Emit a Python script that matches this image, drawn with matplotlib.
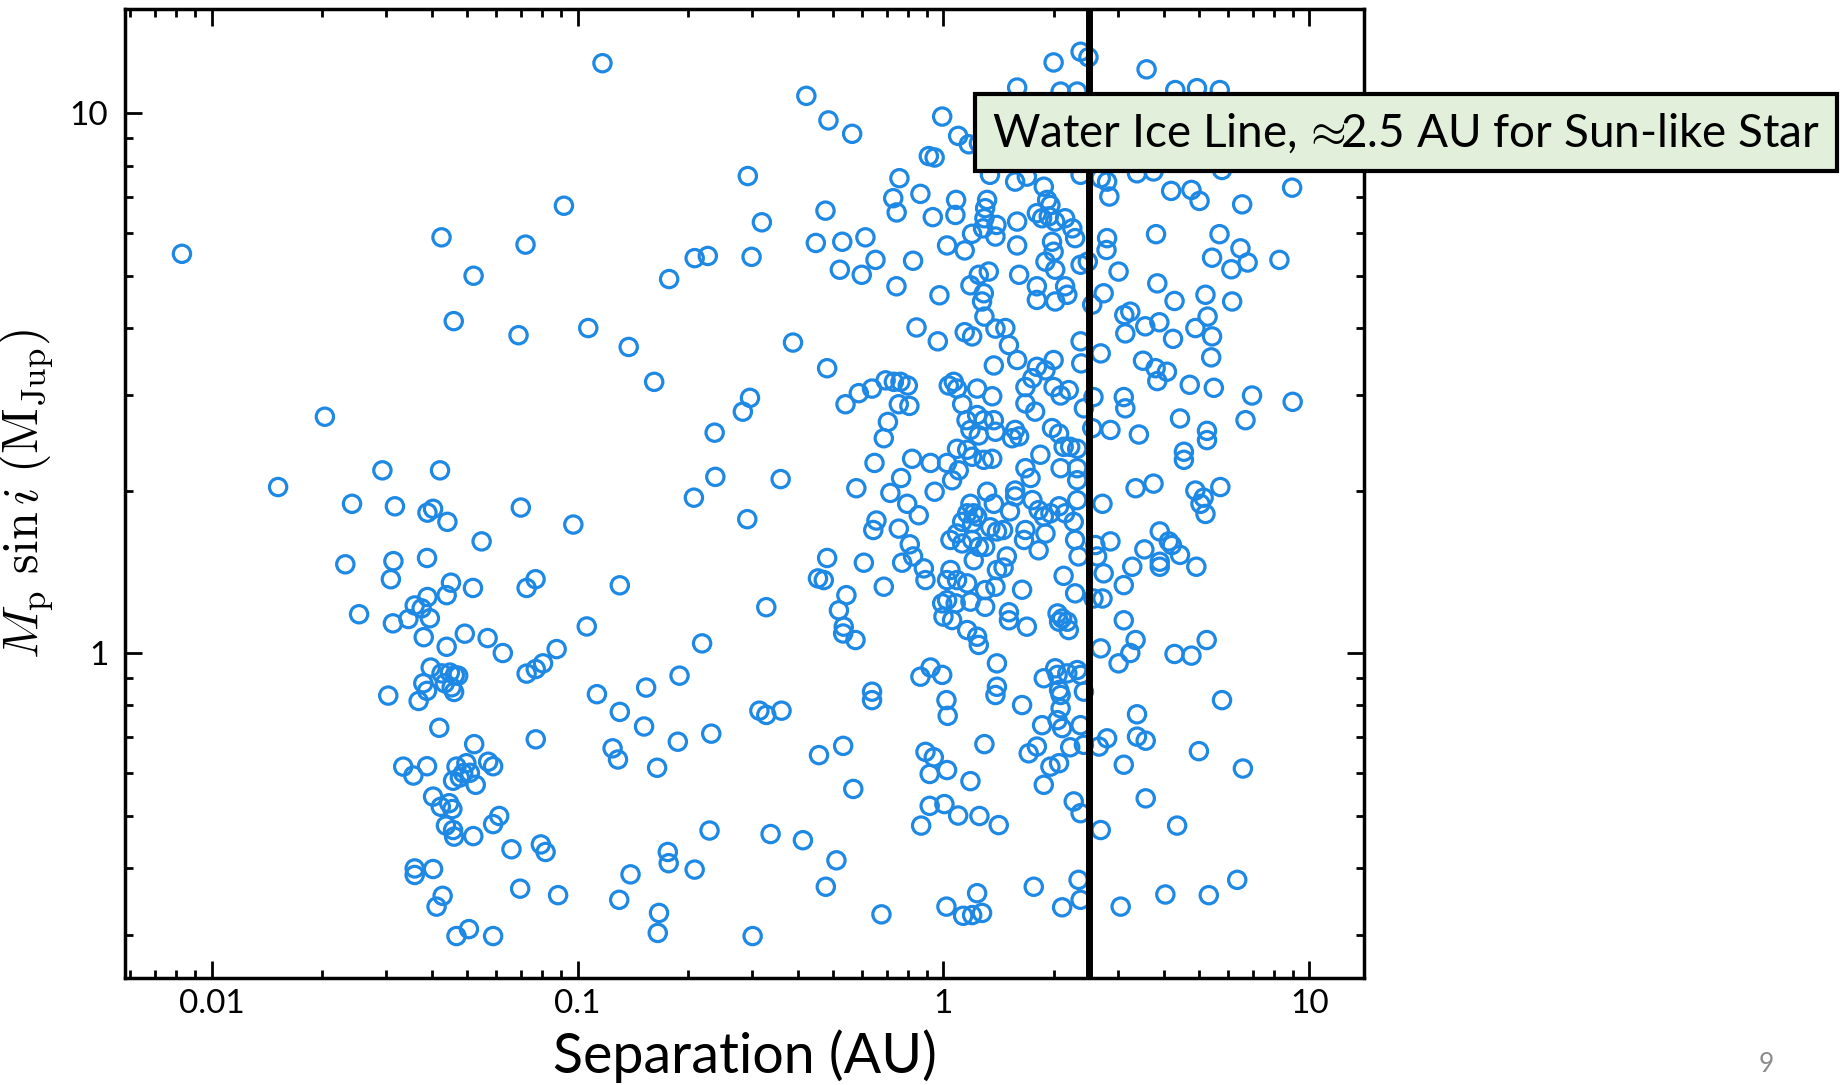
import matplotlib
matplotlib.use('Agg')
import matplotlib.pyplot as plt
from matplotlib.patches import Rectangle
from matplotlib.ticker import LogLocator, FuncFormatter, NullFormatter
import numpy as np

plt.rcParams['font.family'] = ['Lato', 'DejaVu Sans']
plt.rcParams['mathtext.fontset'] = 'cm'

# Planets, split in bands of separation (AU) / M sin i (M_Jup)

# closer than ~0.1 AU
sep_close = [
    0.0083, 0.0425, 0.0721, 0.0918, 0.052, 0.0459, 0.069, 0.107, 0.0204, 0.0293, 0.0421, 0.0152,
    0.0242, 0.0317, 0.0389, 0.0403, 0.0441, 0.070, 0.0974, 0.0547, 0.0232, 0.0314,
    0.0309, 0.0388, 0.0451, 0.0439, 0.0518, 0.0726, 0.0768, 0.106, 0.0253, 0.0313,
    0.0345, 0.0359, 0.0375, 0.0389, 0.0395, 0.038, 0.0439, 0.0492, 0.0568, 0.0625,
    0.0877, 0.0726, 0.0769, 0.0805, 0.0397, 0.0425, 0.0448, 0.0462, 0.0472, 0.0434,
    0.0453, 0.046, 0.0379, 0.0388, 0.0368, 0.0304, 0.0419, 0.0769, 0.0522, 0.0334,
    0.0356, 0.0388, 0.0467, 0.0497, 0.0487, 0.0477, 0.0457, 0.0508, 0.0527, 0.057,
    0.0588, 0.0403, 0.0423, 0.0446, 0.0455, 0.0437, 0.0457, 0.046, 0.0519, 0.0588,
    0.0611, 0.066, 0.0794, 0.0818, 0.0359, 0.0359, 0.0403, 0.0428, 0.0412, 0.0697,
    0.0885, 0.0467, 0.0505, 0.0588,
]
mass_close = [
    5.49, 5.89, 5.71, 6.74, 5.0, 4.12, 3.88, 4.0, 2.74, 2.18, 2.18, 2.03,
    1.89, 1.87, 1.82, 1.85, 1.75, 1.86, 1.73, 1.61, 1.46, 1.48,
    1.37, 1.50, 1.35, 1.28, 1.32, 1.32, 1.37, 1.12, 1.18, 1.135,
    1.156, 1.225, 1.21, 1.27, 1.16, 1.07, 1.027, 1.086, 1.066, 1.0,
    1.017, 0.916, 0.934, 0.957, 0.940, 0.917, 0.92, 0.91, 0.908, 0.879,
    0.864, 0.847, 0.879, 0.851, 0.815, 0.834, 0.727, 0.692, 0.678, 0.616,
    0.593, 0.617, 0.616, 0.625, 0.599, 0.588, 0.580, 0.60, 0.570, 0.629,
    0.617, 0.542, 0.519, 0.527, 0.514, 0.479, 0.470, 0.457, 0.458, 0.482,
    0.499, 0.433, 0.442, 0.428, 0.399, 0.388, 0.398, 0.355, 0.339, 0.366,
    0.356, 0.299, 0.308, 0.299,
]

# ~0.1 - 0.5 AU
sep_warm = [
    0.117, 0.422, 0.485, 0.292, 0.476, 0.319, 0.448, 0.209, 0.227, 0.299,
    0.178, 0.138, 0.162, 0.388, 0.481, 0.296, 0.283, 0.237, 0.238, 0.359, 0.208,
    0.291, 0.1305, 0.328, 0.481, 0.454, 0.471, 0.219, 0.190, 0.154, 0.113,
    0.1305, 0.152, 0.188, 0.232, 0.1247, 0.129, 0.165, 0.314, 0.328, 0.361,
    0.457, 0.2295, 0.337, 0.413, 0.477, 0.1765, 0.1775, 0.1396, 0.209, 0.130,
    0.167, 0.1657, 0.301,
]
mass_warm = [
    12.38, 10.77, 9.7, 7.65, 6.60, 6.28, 5.75, 5.39, 5.44, 5.42,
    4.93, 3.69, 3.18, 3.76, 3.37, 2.97, 2.80, 2.56, 2.12, 2.10, 1.94,
    1.77, 1.335, 1.216, 1.50, 1.375, 1.365, 1.042, 0.908, 0.863, 0.839,
    0.778, 0.731, 0.685, 0.709, 0.666, 0.635, 0.613, 0.782, 0.768, 0.782,
    0.647, 0.469, 0.462, 0.450, 0.369, 0.428, 0.408, 0.389, 0.397, 0.349,
    0.330, 0.303, 0.299,
]

# ~0.5 - 1.4 AU
sep_mid = [
    0.563, 0.992, 1.097, 1.173, 1.25, 0.912, 0.946, 1.34, 0.758, 0.729,
    0.745, 0.865, 0.935, 1.083, 1.078, 1.316, 1.30, 1.294, 1.283, 1.197,
    1.387, 1.396, 1.023, 1.143, 0.529, 0.612, 0.521, 0.598, 0.652, 0.826,
    0.744, 0.975, 1.185, 1.249, 1.33, 1.289, 1.275, 1.294, 1.387, 0.844,
    0.965, 1.143, 1.198,
    0.540, 0.587, 0.638, 0.695, 0.732, 0.763, 0.799, 0.755, 0.807, 0.705,
    0.687, 0.648, 0.578, 0.766, 0.716, 0.796, 0.856, 0.656, 0.643, 0.755,
    0.809, 0.771, 0.826, 0.884, 0.893, 0.606, 0.687, 0.543, 0.518, 0.534,
    0.532, 0.575, 0.922, 0.865, 0.992, 1.034, 1.067, 1.089, 1.236, 1.359,
    1.373, 1.125, 1.156, 1.236, 1.289, 1.373, 1.185, 1.249, 1.387, 1.089,
    1.161, 1.198, 1.289, 1.359, 1.101, 1.056, 0.821, 0.922, 1.023, 0.946,
    1.316, 1.373, 1.185, 1.161, 1.21, 1.236, 1.125, 1.198, 1.343, 1.40,
    1.045, 1.089, 1.125, 1.198, 1.249, 1.30, 1.21, 1.40, 1.045, 1.023,
    1.089, 1.161, 1.30, 1.387, 0.992, 1.023, 1.08, 1.185, 1.30, 1.0,
    1.056, 1.161, 1.236, 1.249, 1.40,
    1.019, 1.027, 0.638, 0.638, 1.40, 1.387, 0.532, 0.567, 0.893, 0.941,
    0.917, 1.023, 1.185, 1.294, 0.917, 1.006, 1.097, 1.254, 0.869, 1.416,
    0.510, 0.677, 1.019, 1.236, 1.132, 1.198, 1.275,
]
mass_mid = [
    9.16, 9.86, 9.08, 8.76, 8.8, 8.33, 8.28, 7.69, 7.58, 6.96,
    6.55, 7.09, 6.42, 6.91, 6.48, 6.91, 6.67, 6.39, 6.12, 5.98,
    5.91, 6.21, 5.69, 5.57, 5.78, 5.89, 5.13, 5.02, 5.35, 5.33,
    4.78, 4.60, 4.80, 5.02, 5.09, 4.64, 4.48, 4.20, 3.99, 4.01,
    3.78, 3.93, 3.86,
    2.89, 3.03, 3.09, 3.20, 3.18, 3.18, 3.13, 2.89, 2.87, 2.68,
    2.50, 2.25, 2.02, 2.11, 1.98, 1.89, 1.80, 1.76, 1.69, 1.70,
    1.59, 1.47, 1.51, 1.435, 1.365, 1.47, 1.327, 1.28, 1.20, 1.119,
    1.087, 1.057, 0.94, 0.904, 0.911, 3.13, 3.18, 3.09, 3.09, 2.99,
    3.41, 2.89, 2.70, 2.76, 2.70, 2.70, 2.59, 2.53, 2.57, 2.39,
    2.38, 2.31, 2.28, 2.29, 2.18, 2.09, 2.29, 2.25, 2.25, 1.99,
    1.99, 1.89, 1.89, 1.815, 1.815, 1.79, 1.75, 1.74, 1.71, 1.68,
    1.62, 1.665, 1.596, 1.62, 1.573, 1.573, 1.486, 1.425, 1.425, 1.365,
    1.365, 1.346, 1.308, 1.327, 1.236, 1.253, 1.236, 1.245, 1.218, 1.168,
    1.151, 1.103, 1.072, 1.035, 0.957,
    0.818, 0.765, 0.848, 0.818, 0.866, 0.836, 0.673, 0.560, 0.656, 0.641,
    0.597, 0.607, 0.579, 0.678, 0.521, 0.525, 0.500, 0.499, 0.479, 0.48,
    0.413, 0.328, 0.339, 0.359, 0.326, 0.327, 0.330,
]

# ~1.4 - 3.2 AU, around the ice line
sep_near = [
    2.0, 2.37, 2.49, 1.59, 2.09, 2.32, 1.57, 1.69, 1.88, 2.37,
    2.69, 2.80, 2.84, 1.92, 1.96, 1.80, 1.86, 1.94, 2.02, 2.15,
    2.25, 2.29, 1.59, 1.59, 1.98, 2.0, 1.90, 2.02, 2.37, 2.48,
    2.80, 2.79, 3.01, 1.61, 1.80, 1.80, 2.02, 2.15, 2.18, 2.55,
    2.74, 3.12, 3.14, 1.476, 1.51, 2.37,
    1.59, 1.80, 1.90, 2.0, 1.675, 1.75, 2.0, 2.09, 2.20, 1.675,
    1.78, 2.42, 2.69, 2.57, 3.11, 3.14, 2.55, 2.86, 1.57, 1.61,
    1.54, 1.98, 2.07, 2.13, 2.22, 2.32, 1.84, 2.09, 2.32, 2.32,
    1.675, 1.73, 1.57, 1.57, 1.75, 1.52, 1.82, 1.88, 1.96, 2.07,
    2.15, 2.32, 2.27, 1.455, 1.675, 1.66, 1.90, 1.82, 2.29, 1.49,
    1.46, 2.13, 2.34, 2.29, 1.64, 1.51, 1.51, 1.69, 2.05, 2.11,
    2.18, 2.07, 2.20, 2.02, 2.18, 2.32, 2.72, 2.60, 2.86, 2.63,
    2.74, 2.57, 2.72, 3.11, 3.11, 2.69, 3.01, 2.38,
    1.64, 1.88, 2.05, 2.07, 2.09, 2.09, 2.37, 2.42, 1.86, 2.05,
    2.11, 2.37, 1.80, 1.71, 2.22, 2.42, 2.66, 2.80, 1.96, 2.07,
    1.88, 2.27, 2.37, 2.69, 3.11, 1.765, 2.34, 2.11, 2.37, 3.05,
]
mass_near = [
    12.42, 13.0, 12.7, 11.16, 10.97, 10.97, 7.47, 7.63, 7.31, 7.69,
    7.58, 7.47, 7.01, 6.91, 6.76, 6.53, 6.39, 6.44, 6.30, 6.39,
    6.12, 5.87, 6.30, 5.69, 5.78, 5.54, 5.31, 5.13, 5.24, 5.31,
    5.87, 5.58, 5.09, 5.02, 4.78, 4.51, 4.48, 4.78, 4.61, 4.42,
    4.64, 4.23, 3.91, 4.0, 3.72, 3.78,
    3.49, 3.39, 3.34, 3.49, 3.11, 3.23, 3.11, 3.0, 3.07, 2.90,
    2.80, 2.84, 3.59, 2.98, 2.98, 2.84, 2.61, 2.59, 2.59, 2.52,
    2.50, 2.61, 2.55, 2.41, 2.41, 2.39, 2.33, 2.20, 2.20, 2.09,
    2.20, 2.11, 2.0, 1.95, 1.92, 1.83, 1.84, 1.79, 1.815, 1.87,
    1.815, 1.92, 1.75, 1.69, 1.69, 1.62, 1.665, 1.55, 1.62, 1.51,
    1.44, 1.39, 1.51, 1.29, 1.31, 1.19, 1.15, 1.119, 1.184, 1.159,
    1.143, 1.143, 1.103, 0.937, 0.917, 0.930, 1.89, 1.585, 1.61, 1.51,
    1.405, 1.262, 1.262, 1.336, 1.15, 1.02, 0.957, 3.44,
    0.801, 0.898, 0.911, 0.854, 0.836, 0.790, 0.911, 0.848, 0.735, 0.751,
    0.726, 0.735, 0.671, 0.652, 0.669, 0.676, 0.671, 0.695, 0.616, 0.625,
    0.570, 0.531, 0.505, 0.470, 0.621, 0.369, 0.380, 0.338, 0.349, 0.339,
]

# beyond ~3.2 AU
sep_far = [
    3.59, 4.30, 4.93, 5.69, 3.38, 3.75, 5.77, 4.19, 4.76, 5.01,
    6.55, 8.97, 3.81, 5.68, 5.42, 6.48, 6.78, 6.12, 8.28, 3.84,
    4.28, 5.20, 6.15, 3.24, 3.56, 3.89, 4.24, 4.88, 5.27, 5.42,
    5.39, 3.51, 3.80, 4.08, 3.84, 4.71, 5.48, 6.97, 9.0, 4.43,
    6.69, 3.42, 5.25, 5.25, 4.54, 4.54, 3.75, 3.35, 4.88, 5.71,
    5.14,
    5.04, 5.20, 3.90, 4.13, 4.21, 4.43, 3.54, 3.90, 3.90, 4.91,
    3.28, 3.35, 3.24, 4.28, 4.76, 5.24, 5.77, 3.38, 3.38, 3.57,
    4.99, 6.58, 3.57, 4.35, 4.04, 5.31, 6.35,
]
mass_far = [
    12.06, 11.04, 11.13, 11.04, 7.74, 7.80, 7.85, 7.18, 7.21, 6.88,
    6.78, 7.28, 5.97, 5.97, 5.40, 5.62, 5.29, 5.14, 5.35, 4.84,
    4.49, 4.61, 4.48, 4.29, 4.03, 4.10, 3.82, 4.0, 4.20, 3.86,
    3.53, 3.48, 3.37, 3.32, 3.19, 3.14, 3.10, 3.0, 2.92, 2.72,
    2.70, 2.54, 2.58, 2.48, 2.36, 2.28, 2.06, 2.02, 2.0, 2.03,
    1.94,
    1.89, 1.81, 1.68, 1.61, 1.585, 1.52, 1.556, 1.476, 1.445, 1.445,
    1.445, 1.057, 1.0, 0.996, 0.989, 1.057, 0.818, 0.770, 0.700, 0.688,
    0.658, 0.611, 0.538, 0.479, 0.357, 0.356, 0.380,
]

ice_line_au = 2.5
x_major = [0.01, 0.1, 1, 10]
y_major = [1, 10]

sep_au = np.concatenate([sep_close, sep_warm, sep_mid, sep_near, sep_far])
mass_mjup = np.concatenate([mass_close, mass_warm, mass_mid, mass_near, mass_far])

fig = plt.figure(figsize=(18.49, 10.85), dpi=100)
ax = fig.add_axes([0.0676, 0.0986, 0.6701, 0.8931])

ax.scatter(sep_au, mass_mjup, s=155, facecolors='none', edgecolors='#1E88E5', linewidths=2.3, zorder=2)
ax.axvline(ice_line_au, color='black', lw=5, zorder=3)

ax.set_xscale('log')
ax.set_yscale('log')
ax.set_xlim(0.0058, 14.1)
ax.set_ylim(0.25, 15.6)

fmt = FuncFormatter(lambda v, p: '%g' % v)
ax.xaxis.set_major_locator(plt.FixedLocator(x_major))
ax.yaxis.set_major_locator(plt.FixedLocator(y_major))
ax.xaxis.set_minor_locator(LogLocator(base=10, subs=np.arange(2, 10)))
ax.yaxis.set_minor_locator(LogLocator(base=10, subs=np.arange(2, 10)))
ax.xaxis.set_major_formatter(fmt)
ax.yaxis.set_major_formatter(fmt)
ax.xaxis.set_minor_formatter(NullFormatter())
ax.yaxis.set_minor_formatter(NullFormatter())

ax.tick_params(which='both', direction='in', top=True, right=True, width=2)
ax.tick_params(which='major', length=12, labelsize=24)
ax.tick_params(which='minor', length=6)
ax.tick_params(axis='x', which='major', pad=8)
ax.tick_params(axis='y', which='major', pad=12)
for s in ax.spines.values():
    s.set_linewidth(2.5)

ax.set_xlabel('Separation (AU)', fontsize=40, labelpad=7)
ax.set_ylabel(r'$M_{\rm p}\ \sin i\ (\mathrm{M}_{\rm Jup})$', fontsize=36, labelpad=10)

# ice line label box, sits partly outside the axes
fig.add_artist(Rectangle((975 / 1849, 1 - 171 / 1085), 862 / 1849, 77 / 1085,
                         transform=fig.transFigure, facecolor='#E2EFDA', edgecolor='black', lw=3, zorder=5))
fig.text(1406 / 1849, 1 - 133 / 1085, r'Water Ice Line, $\!\approx\!\!$2.5 AU for Sun-like Star',
         ha='center', va='center', fontsize=33, zorder=6)

fig.text(1766 / 1849, 1 - 1064 / 1085, '9', ha='center', va='center', fontsize=19, color='#8c8c8c')

fig.savefig('out.png', dpi=100)
